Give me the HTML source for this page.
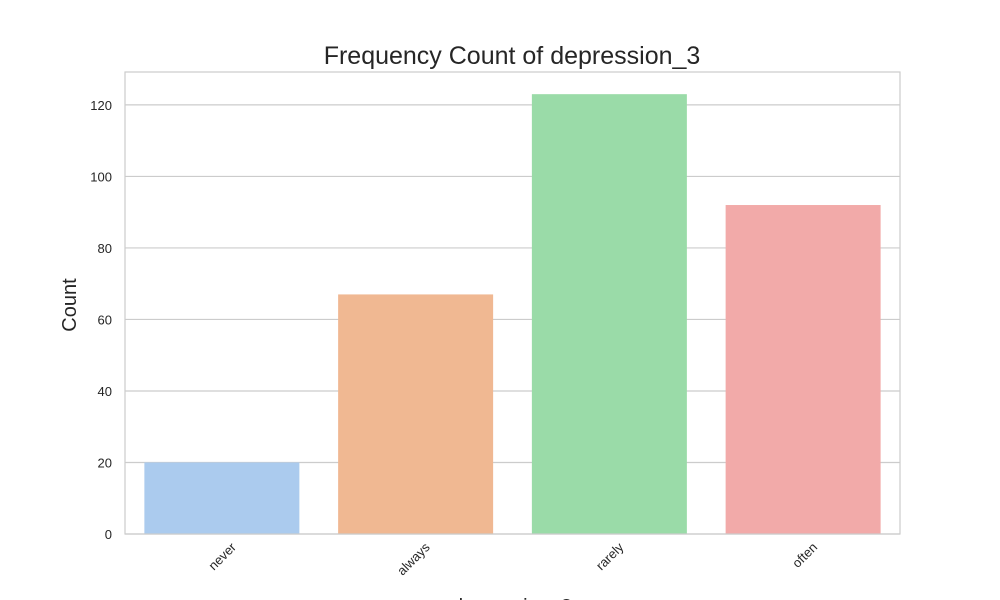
<!DOCTYPE html>
<html><head><meta charset="utf-8"><style>
body{margin:0;background:#fff;}
svg{display:block;font-family:"Liberation Sans",Arial,sans-serif;}
</style></head><body>
<svg id="chart" width="1000" height="600" viewBox="0 0 1000 600">
<rect width="1000" height="600" fill="#fff"/>
<g id="grid"></g>
<g id="bars"></g>
<rect x="125" y="72" width="775" height="462" fill="none" stroke="#cccccc" stroke-width="1.2"/>
<g id="yticks"></g>
<g id="xticks"></g>
<text x="512" y="64" text-anchor="middle" font-size="25" fill="#262626">Frequency Count of depression_3</text>
<text transform="translate(76,305) rotate(-90)" text-anchor="middle" font-size="20" fill="#262626">Count</text>
<text x="512" y="613" text-anchor="middle" font-size="20" fill="#262626">depression_3</text>
</svg>
<script>
const categories=["never","always","rarely","often"];
const counts=[20,67,123,92];
const colors=["#abcbee","#f0b892","#9adba8","#f2aaa9"];
const yTickValues=[0,20,40,60,80,100,120];
const L=125,R=900,T=72,B=534,yMax=129.2;
const ns="http://www.w3.org/2000/svg";
function y(v){return B-(v/yMax)*(B-T);}
const band=(R-L)/categories.length;
function x(i){return L+band*i;}
const grid=document.getElementById('grid'),yt=document.getElementById('yticks'),bars=document.getElementById('bars'),xt=document.getElementById('xticks');
yTickValues.forEach(v=>{
 const l=document.createElementNS(ns,'line');
 l.setAttribute('x1',L);l.setAttribute('x2',R);l.setAttribute('y1',y(v));l.setAttribute('y2',y(v));
 l.setAttribute('stroke','#cccccc');l.setAttribute('stroke-width','1.2');
 
 
 grid.appendChild(l);
 const t=document.createElementNS(ns,'text');
 t.setAttribute('x',L-13);t.setAttribute('y',y(v)+5);t.setAttribute('text-anchor','end');
 t.setAttribute('font-size','13');t.setAttribute('fill','#262626');t.textContent=v;
 
 
 yt.appendChild(t);
});
categories.forEach((c,i)=>{
 const w=band*0.8,bx=x(i)+band*0.1;
 const r=document.createElementNS(ns,'rect');
 r.setAttribute('x',bx);r.setAttribute('width',w);r.setAttribute('y',y(counts[i]));r.setAttribute('height',B-y(counts[i]));
 r.setAttribute('fill',colors[i]);
 
 
 bars.appendChild(r);
 const cx=x(i)+band/2;
 const t=document.createElementNS(ns,'text');
 t.setAttribute('transform','translate('+(cx+15)+',548) rotate(-45)');
 t.setAttribute('text-anchor','end');t.setAttribute('font-size','13');t.setAttribute('fill','#262626');
 t.textContent=c;
 
 
 xt.appendChild(t);
});
</script>
</body></html>
